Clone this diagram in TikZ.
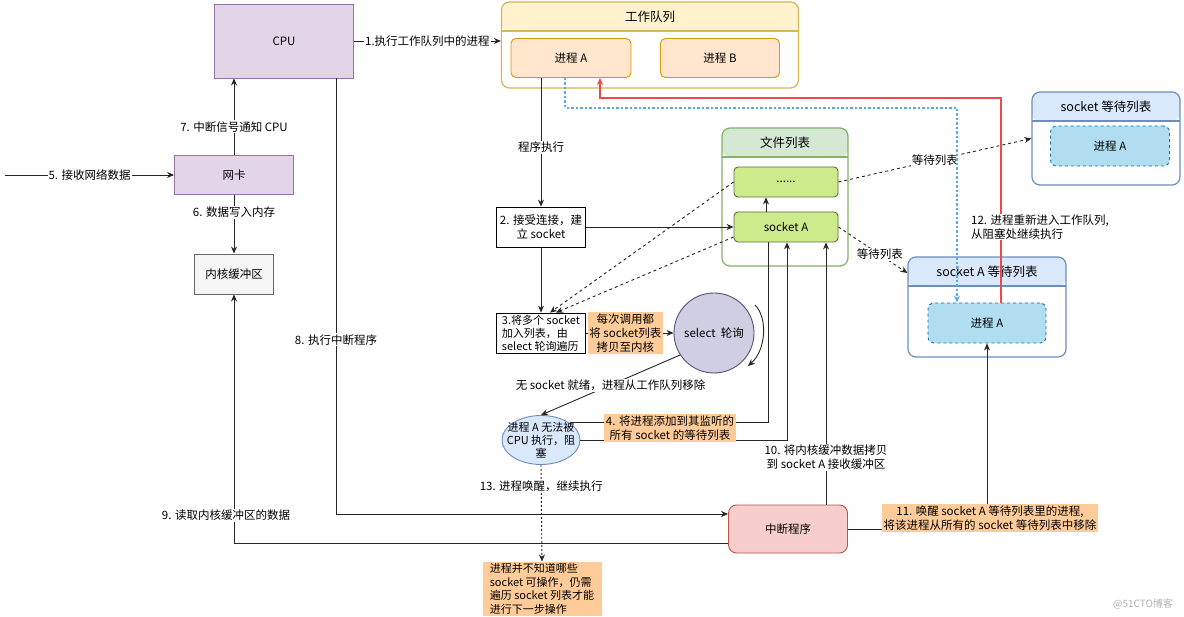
\documentclass[tikz,border=0pt]{standalone}
\usepackage{fontspec}
\setmainfont{Noto Sans CJK SC}
\usetikzlibrary{arrows.meta,shapes.geometric}

\definecolor{cpufill}{HTML}{E1D5E7}
\definecolor{cpudraw}{HTML}{9673A6}
\definecolor{wqhead}{HTML}{FFF2CC}
\definecolor{wqdraw}{HTML}{D6B656}
\definecolor{procfill}{HTML}{FFE6CC}
\definecolor{procdraw}{HTML}{D79B00}
\definecolor{flhead}{HTML}{D5E8D4}
\definecolor{fldraw}{HTML}{82B366}
\definecolor{sockfill}{HTML}{CDEB8B}
\definecolor{sockdraw}{HTML}{5E7040}
\definecolor{wlhead}{HTML}{DAE8FC}
\definecolor{wldraw}{HTML}{6C8EBF}
\definecolor{wpfill}{HTML}{B1DDF0}
\definecolor{wpdraw}{HTML}{10739E}
\definecolor{selfill}{HTML}{D0CEE2}
\definecolor{seldraw}{HTML}{56517E}
\definecolor{irqfill}{HTML}{F8CECC}
\definecolor{irqdraw}{HTML}{B85450}
\definecolor{buffill}{HTML}{F5F5F5}
\definecolor{bufdraw}{HTML}{666666}
\definecolor{notefill}{HTML}{FFCC99}
\definecolor{wakered}{HTML}{F04848}
\definecolor{waitblue}{HTML}{5AA9E6}

\tikzset{
  lbl/.style={fill=white, inner sep=1pt, align=center},
  note/.style={fill=notefill, inner sep=1.5pt, align=center},
  plain/.style={draw, line width=0.8pt, fill=white, align=center, inner sep=2pt},
  item/.style 2 args={draw=#2, fill=#1, line width=0.9pt, align=center, inner sep=2pt},
  pool/.style 2 args={draw=#2, fill=white, rounded corners=8pt, line width=1.2pt,
    path picture={
      \fill[#1] (path picture bounding box.north west) rectangle ([yshift=-29pt]path picture bounding box.north east);
      \draw[#2, line width=1.2pt] ([yshift=-29pt]path picture bounding box.north west) -- ([yshift=-29pt]path picture bounding box.north east);
    }},
  title/.style={font=\fontsize{12.5}{15}\selectfont},
  link/.style={draw=black!85, line width=0.9pt},
}

\begin{document}
\begin{tikzpicture}[x=1pt, y=-1pt, font=\fontsize{11.5}{14}\selectfont, >={Stealth[length=7pt,width=6pt]}]
\useasboundingbox[fill=white] (0,0) rectangle (1184,617);

% left column
\node[item={cpufill}{cpudraw}, minimum width=139, minimum height=74] (cpu) at (284,41) {CPU};
\node[item={cpufill}{cpudraw}, minimum width=119, minimum height=39] (nic) at (234,175) {网卡};
\node[item={buffill}{bufdraw}, minimum width=79, minimum height=40] (buf) at (234,274) {内核缓冲区};
\coordinate (wire) at (5,175);

% work queue
\node[pool={wqhead}{wqdraw}, minimum width=297, minimum height=86] (wq) at (650,45) {};
\node[title] (wqt) at ([yshift=-15pt]wq.north) {工作队列};
\node[item={procfill}{procdraw}, rounded corners=5pt, minimum width=120, minimum height=39] (procA) at (571,58) {进程 A};
\node[item={procfill}{procdraw}, rounded corners=5pt, minimum width=119, minimum height=39] (procB) at (720,58) {进程 B};

% file list
\node[pool={flhead}{fldraw}, minimum width=126, minimum height=138] (fl) at (785,197) {};
\node[title] (flt) at ([yshift=-15pt]fl.north) {文件列表};
\node[item={sockfill}{sockdraw}, rounded corners=4pt, minimum width=104, minimum height=30] (dots) at (786,182) {......};
\node[item={sockfill}{sockdraw}, rounded corners=4pt, minimum width=104, minimum height=30] (sockA) at (786,227) {socket A};

% wait lists
\node[pool={wlhead}{wldraw}, minimum width=148, minimum height=93] (swl) at (1106,138.5) {};
\node[title] (swlt) at ([yshift=-15pt]swl.north) {socket 等待列表};
\node[item={wpfill}{wpdraw}, dashed, rounded corners=6pt, minimum width=119, minimum height=40] (swp) at (1110,146) {进程 A};
\node[pool={wlhead}{wldraw}, minimum width=158, minimum height=100] (sawl) at (987,307) {};
\node[title] (sawlt) at ([yshift=-15pt]sawl.north) {socket A 等待列表};
\node[item={wpfill}{wpdraw}, dashed, rounded corners=6pt, minimum width=118, minimum height=40] (sap) at (987,323) {进程 A};

% middle column
\node[plain, minimum width=89, minimum height=40] (acc) at (541,227) {2. 接受连接，建\\立 socket};
\node[plain, minimum width=89, minimum height=40, align=left, inner sep=1pt, font=\fontsize{11}{13}\selectfont] (sel3) at (541,333) {3.将多个 socket\\加入列表，由\\select 轮询遍历};
\node[circle, draw=seldraw, fill=selfill, line width=0.9pt, minimum size=80] (sel) at (714,333) {select\ \ 轮询};
\node[ellipse, draw=wldraw, fill=wlhead, line width=0.9pt, minimum width=78, minimum height=49] (blk) at (541,440) {};
\node[align=center, font=\fontsize{11}{13}\selectfont] (blkt) at (541,440) {进程 A 无法被\\CPU 执行，阻\\塞};
\node[item={irqfill}{irqdraw}, rounded corners=8pt, minimum width=119, minimum height=48] (irq) at (788,529) {中断程序};
\node[fill=notefill, align=left, inner sep=2pt, minimum width=119, minimum height=54, font=\fontsize{11}{13.5}\selectfont] (hint) at (542,589) {进程并不知道哪些\\socket 可操作，仍需\\遍历 socket 列表才能\\进行下一步操作};

% hardware path
\draw[link,->] (wire) -- node[lbl]{5. 接收网络数据} (nic.west);
\draw[link,->] (nic.north) -- node[lbl, pos=0.37]{7. 中断信号通知 CPU} (nic.north |- cpu.south);
\draw[link,->] (nic.south) -- node[lbl, pos=0.3]{6. 数据写入内存} (buf.north);
\draw[link,->] (cpu.east) -- node[lbl]{1.执行工作队列中的进程} (wq.west |- cpu.east);
\draw[link,->] ([xshift=52pt]cpu.south) |- node[lbl, pos=0.3]{8. 执行中断程序} ([yshift=15pt]irq.west);
\draw[link,->] ([yshift=-14pt]irq.west) -| node[lbl, pos=0.556, xshift=-8pt]{9. 读取内核缓冲区的数据} (buf.south);

% select path
\draw[link,->] ([xshift=-30pt]procA.south) -- node[lbl, pos=0.54]{程序执行} (acc.north);
\draw[link,->] (acc.east) -- (sockA.west);
\draw[link,->] (acc.south) -- (sel3.north);
\draw[link,->] ([xshift=-20pt]sockA.north) -- ([xshift=-20pt]dots.south);
\draw[link,dashed,->] (dots.west) -- ([xshift=9pt]sel3.north);
\draw[link,dashed,->] ([yshift=-10pt]sockA.west) -- ([xshift=15pt]sel3.north);
\draw[link,->] (sel3.east) -- node[note, pos=0.45]{每次调用都\\将 socket列表\\拷贝至内核} (sel.west);
\draw[link,->] ([shift={(41,-28)}]sel.center) .. controls ([shift={(54,-15)}]sel.center) and ([shift={(52,17)}]sel.center) .. ([shift={(34,33)}]sel.center);
\draw[link,->] (sel.213) -- node[lbl]{无 socket 就绪，进程从工作队列移除} (blk.north);
\draw[link] ([xshift=-18pt]sockA.south) |- ([shift={(30,-18)}]blk.center);
\draw[link,->] ([xshift=39pt]blk.center) -| ([xshift=1pt]sockA.south);
\node[note] (n4) at (670,428) {4. 将进程添加到其监听的\\所有 socket 的等待列表};
\draw[link,dash pattern=on 2pt off 2pt,->] (blk.south) -- node[lbl, pos=0.22]{13. 进程唤醒，继续执行} (hint.north);

% wait lists and wake up
\draw[link,dashed,->] (dots.east) -- node[lbl]{等待列表} (swl.west);
\draw[link,dashed,->] (sockA.east) -- node[lbl, pos=0.6]{等待列表} ([yshift=34pt]sawl.west);
\draw[link,->] ([xshift=38pt]irq.north) -- node[lbl, pos=0.18]{10. 将内核缓冲数据拷贝\\到 socket A 接收缓冲区} ([xshift=40pt]sockA.south);
\draw[link,->] (irq.east) -| node[note, pos=0.53, xshift=3pt]{11. 唤醒 socket A 等待列表里的进程,\\将该进程从所有的 socket 等待列表中移除} (sap.south);
\draw[draw=wakered, line width=1.5pt, ->] ([xshift=14pt]sap.north) -- ++(0,-204.5) -| ([xshift=29pt]procA.south);
\draw[draw=waitblue, line width=1.3pt, dash pattern=on 2.5pt off 2pt, ->] ([xshift=-6pt]procA.south) -- ++(0,30) -| ([xshift=-30pt]sap.north);
\node[lbl, align=left] (n12) at (1040,227) {12. 进程重新进入工作队列,\\从阻塞处继续执行};

\node[text=black!30, font=\fontsize{10}{12}\selectfont] (mark) at (1143,604) {@51CTO博客};
\end{tikzpicture}
\end{document}
